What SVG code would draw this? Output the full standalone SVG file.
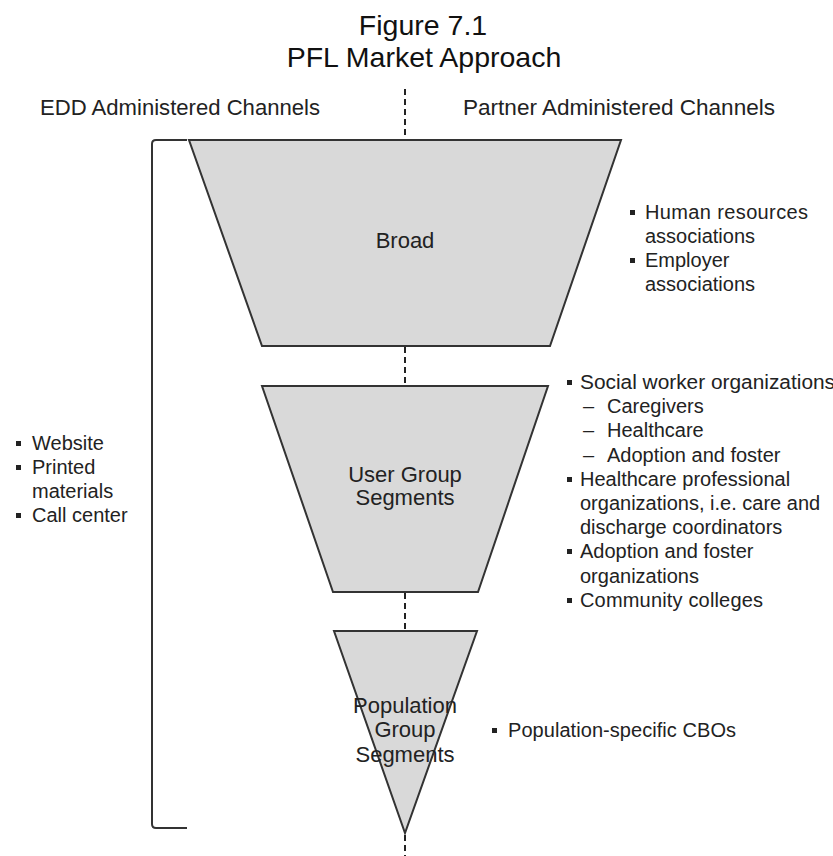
<svg xmlns="http://www.w3.org/2000/svg" width="833" height="856" viewBox="0 0 833 856">
<style>
  .bg { fill: #ffffff; }
  .title { font-family: "Liberation Sans", Arial, sans-serif; font-size: 28.5px; fill: #111; text-anchor: middle; }
  .hdr { font-family: "Liberation Sans", Arial, sans-serif; font-size: 21.5px; fill: #222; }
  .lbl { font-family: "Liberation Sans", Arial, sans-serif; font-size: 22px; fill: #222; text-anchor: middle; }
  .txt { font-family: "Liberation Sans", Arial, sans-serif; font-size: 20px; fill: #222; }
  .shape { fill: #d9d9d9; stroke: #333; stroke-width: 2; stroke-linejoin: miter; }
  .dash { stroke: #222; stroke-width: 2; stroke-dasharray: 6 4; fill: none; }
  .bracket { stroke: #333; stroke-width: 2; fill: none; }
  .bul { fill: #222; }
</style>
<rect class="bg" x="0" y="0" width="833" height="856"/>

<g id="title">
  <text class="title" x="423" y="35">Figure 7.1</text>
  <text class="title" x="424" y="67">PFL Market Approach</text>
</g>

<g id="header-edd">
  <text class="hdr" x="40" y="115" textLength="280" lengthAdjust="spacingAndGlyphs">EDD Administered Channels</text>
</g>
<g id="header-partner">
  <text class="hdr" x="463" y="115" textLength="312" lengthAdjust="spacingAndGlyphs">Partner Administered Channels</text>
</g>

<g id="connectors">
  <line class="dash" x1="405" y1="89" x2="405" y2="139"/>
  <line class="dash" x1="405" y1="347" x2="405" y2="385"/>
  <line class="dash" x1="405" y1="593" x2="405" y2="630"/>
  <line class="dash" x1="405" y1="835" x2="405" y2="856"/>
  <path class="bracket" d="M187,140 L156,140 Q152,140 152,144 L152,824 Q152,828 156,828 L187,828"/>
</g>

<g id="broad">
  <polygon class="shape" points="189,140 621,140 550,346 262,346"/>
  <text class="lbl" x="405" y="248">Broad</text>
</g>

<g id="user-group">
  <polygon class="shape" points="262,386 548,386 478,592 333,592"/>
  <text class="lbl" x="405" y="482">User Group</text>
  <text class="lbl" x="405" y="505">Segments</text>
</g>

<g id="population-group">
  <polygon class="shape" points="334,631 477,631 405,833"/>
  <text class="lbl" x="405" y="713">Population</text>
  <text class="lbl" x="405" y="737">Group</text>
  <text class="lbl" x="405" y="762">Segments</text>
</g>

<g id="edd-channels">
  <rect class="bul" x="16" y="441" width="5" height="5"/>
  <text class="txt" x="32" y="450">Website</text>
  <rect class="bul" x="16" y="465" width="5" height="5"/>
  <text class="txt" x="32" y="474">Printed</text>
  <text class="txt" x="32" y="498">materials</text>
  <rect class="bul" x="16" y="513" width="5" height="5"/>
  <text class="txt" x="32" y="522">Call center</text>
</g>

<g id="broad-partners">
  <rect class="bul" x="630" y="210" width="5" height="5"/>
  <text class="txt" x="645" y="219" textLength="163" lengthAdjust="spacing">Human resources</text>
  <text class="txt" x="645" y="243">associations</text>
  <rect class="bul" x="630" y="258" width="5" height="5"/>
  <text class="txt" x="645" y="267">Employer</text>
  <text class="txt" x="645" y="291">associations</text>
</g>

<g id="user-group-partners">
  <rect class="bul" x="567" y="380" width="5" height="5"/>
  <text class="txt" x="580" y="389" textLength="255" lengthAdjust="spacingAndGlyphs">Social worker organizations</text>
  <text class="txt" x="583" y="413">–</text>
  <text class="txt" x="607" y="413">Caregivers</text>
  <text class="txt" x="583" y="437">–</text>
  <text class="txt" x="607" y="437">Healthcare</text>
  <text class="txt" x="583" y="462">–</text>
  <text class="txt" x="607" y="462">Adoption and foster</text>
  <rect class="bul" x="567" y="477" width="5" height="5"/>
  <text class="txt" x="580" y="486">Healthcare professional</text>
  <text class="txt" x="580" y="510">organizations, i.e. care and</text>
  <text class="txt" x="580" y="534">discharge coordinators</text>
  <rect class="bul" x="567" y="549" width="5" height="5"/>
  <text class="txt" x="580" y="558">Adoption and foster</text>
  <text class="txt" x="580" y="583">organizations</text>
  <rect class="bul" x="567" y="598" width="5" height="5"/>
  <text class="txt" x="580" y="607" textLength="183" lengthAdjust="spacing">Community colleges</text>
</g>

<g id="population-partners">
  <rect class="bul" x="492" y="728" width="5" height="5"/>
  <text class="txt" x="508" y="737" textLength="228" lengthAdjust="spacing">Population-specific CBOs</text>
</g>
</svg>
